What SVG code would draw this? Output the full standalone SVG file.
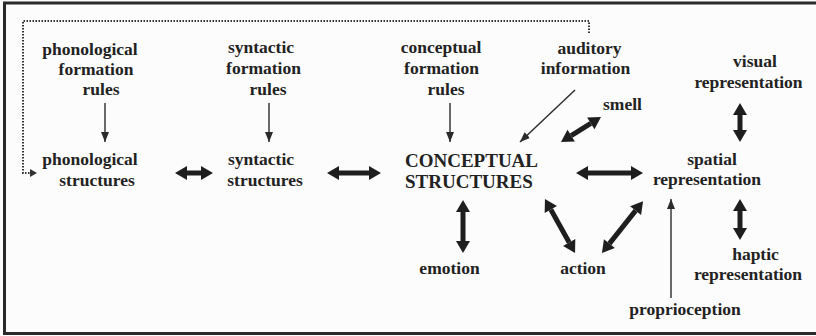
<svg xmlns="http://www.w3.org/2000/svg" width="816" height="336" viewBox="0 0 816 336">
  <style>
    .t { font-family: "Liberation Serif", "Times New Roman", serif; font-weight: bold; font-size: 17.5px; fill: #222; text-anchor: middle; }
    .big { font-size: 19px; text-anchor: start; }
    .thick { stroke: #1e1e1e; stroke-width: 5; fill: none; marker-start: url(#bigHead); marker-end: url(#bigHead); }
    .thin { stroke: #2a2a2a; stroke-width: 1.4; fill: none; marker-end: url(#smallHead); }
    .dots { stroke: #333; stroke-width: 2; stroke-dasharray: 1.5 1.5; fill: none; }
  </style>
  <defs>
    <marker id="bigHead" markerUnits="userSpaceOnUse" markerWidth="14" markerHeight="16" viewBox="0 -8 13 16" refX="0" refY="0" orient="auto-start-reverse">
      <path d="M0,-7 L12,0 L0,7 Z" fill="#1e1e1e"/>
    </marker>
    <marker id="smallHead" markerUnits="userSpaceOnUse" markerWidth="11" markerHeight="10" viewBox="0 -5 11 10" refX="10" refY="0" orient="auto">
      <path d="M0,-4 L10,0 L0,4 Z" fill="#2a2a2a"/>
    </marker>
  </defs>

  <!-- page and frame (right edge runs off the page) -->
  <rect x="0" y="0" width="816" height="336" fill="#fcfcfc"/>
  <rect x="4.5" y="3" width="820" height="330.5" fill="none" stroke="#2a2a2a" stroke-width="3"/>

  <!-- connectors -->
  <g id="connectors">
    <!-- feedback loop from auditory information to phonological structures -->
    <path class="dots" d="M589,33 V21 H23 V173 H31"/>
    <path d="M30,169 L37,173 L30,177 Z" fill="#333"/>

    <!-- one-way inputs -->
    <line class="thin" x1="105" y1="103" x2="105" y2="142"/>
    <line class="thin" x1="269" y1="103" x2="269" y2="142"/>
    <line class="thin" x1="450" y1="103" x2="450" y2="142"/>
    <line class="thin" x1="575" y1="90" x2="520" y2="142"/>
    <line class="thin" x1="671" y1="298" x2="671" y2="199" stroke="#444"/>

    <!-- two-way interfaces -->
    <line class="thick" x1="187" y1="173" x2="201" y2="173"/>
    <line class="thick" x1="339" y1="173" x2="369" y2="173"/>
    <line class="thick" x1="588" y1="173" x2="631" y2="173"/>
    <line class="thick" x1="571.2" y1="135.6" x2="590.8" y2="123.4"/>
    <line class="thick" x1="740" y1="115" x2="740" y2="130"/>
    <line class="thick" x1="463" y1="212" x2="463" y2="241"/>
    <line class="thick" x1="550.8" y1="209.5" x2="569.2" y2="242.5"/>
    <line class="thick" x1="609.4" y1="243.6" x2="635.6" y2="210.6"/>
    <line class="thick" x1="740" y1="211" x2="740" y2="228"/>
  </g>

  <g id="phon-rules">
    <text class="t" x="90" y="55">phonological</text>
    <text class="t" x="96" y="75">formation</text>
    <text class="t" x="101" y="95">rules</text>
  </g>
  <g id="phon-struct">
    <text class="t" x="90" y="165">phonological</text>
    <text class="t" x="97" y="186">structures</text>
  </g>
  <g id="syn-rules">
    <text class="t" x="261" y="53">syntactic</text>
    <text class="t" x="263.5" y="74">formation</text>
    <text class="t" x="268" y="95">rules</text>
  </g>
  <g id="syn-struct">
    <text class="t" x="261" y="165">syntactic</text>
    <text class="t" x="265" y="186">structures</text>
  </g>
  <g id="con-rules">
    <text class="t" x="441" y="53">conceptual</text>
    <text class="t" x="441.5" y="74">formation</text>
    <text class="t" x="446" y="95">rules</text>
  </g>
  <g id="con-struct">
    <text class="t big" x="405" y="167">CONCEPTUAL</text>
    <text class="t big" x="405" y="188">STRUCTURES</text>
  </g>
  <g id="auditory">
    <text class="t" x="589.5" y="54">auditory</text>
    <text class="t" x="585.5" y="74">information</text>
  </g>
  <g id="smell">
    <text class="t" x="622.5" y="110">smell</text>
  </g>
  <g id="visual">
    <text class="t" x="755" y="67">visual</text>
    <text class="t" x="748.5" y="88">representation</text>
  </g>
  <g id="spatial">
    <text class="t" x="712" y="165">spatial</text>
    <text class="t" x="707" y="185">representation</text>
  </g>
  <g id="emotion">
    <text class="t" x="449.5" y="274">emotion</text>
  </g>
  <g id="action">
    <text class="t" x="583" y="274">action</text>
  </g>
  <g id="haptic">
    <text class="t" x="755.5" y="260">haptic</text>
    <text class="t" x="748" y="280">representation</text>
  </g>
  <g id="proprioception">
    <text class="t" x="685" y="315">proprioception</text>
  </g>
</svg>
